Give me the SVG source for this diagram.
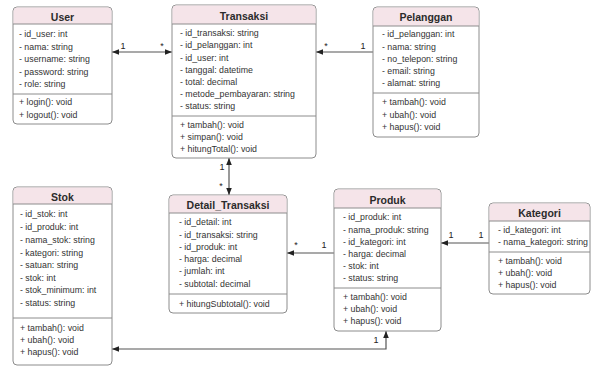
<svg xmlns="http://www.w3.org/2000/svg" width="592" height="367" viewBox="0 0 592 367">
<style>
.box{fill:#ffffff;stroke:#8c8c8c;stroke-width:1}
.hdr{fill:#f5e4e9}
.sep{stroke:#8c8c8c;stroke-width:1}
.ttl{font-family:"Liberation Sans",Arial,sans-serif;font-size:10.5px;font-weight:bold;fill:#2b2b2b;text-anchor:middle}
.t{font-family:"Liberation Sans",Arial,sans-serif;font-size:8.8px;fill:#333333}
.lbl{font-family:"Liberation Sans",Arial,sans-serif;font-size:9px;fill:#222222;text-anchor:middle}
.ln{fill:none;stroke:#555555;stroke-width:1.2}
</style>
<defs>
<marker id="arr" viewBox="0 0 10 10" refX="10" refY="5" markerWidth="7" markerHeight="7" markerUnits="userSpaceOnUse" orient="auto-start-reverse">
<path d="M0,1 L10,5 L0,9 z" fill="#222222"/>
</marker>
</defs>
<rect width="592" height="367" fill="#ffffff"/>

<g id="connectors">
<line class="ln" x1="112" y1="52" x2="172" y2="52" marker-start="url(#arr)" marker-end="url(#arr)"/>
<line class="ln" x1="373" y1="52" x2="316" y2="52" marker-end="url(#arr)"/>
<line class="ln" x1="229" y1="158" x2="229" y2="195" marker-start="url(#arr)" marker-end="url(#arr)"/>
<line class="ln" x1="334" y1="253" x2="287" y2="253" marker-end="url(#arr)"/>
<line class="ln" x1="489" y1="243" x2="441" y2="243" marker-end="url(#arr)"/>
<path class="ln" d="M112,349 L386,349 L386,331" marker-start="url(#arr)" marker-end="url(#arr)"/>
<text class="lbl" x="123" y="48.5">1</text>
<text class="lbl" x="162" y="48.5">*</text>
<text class="lbl" x="326" y="48.5">*</text>
<text class="lbl" x="363" y="48.5">1</text>
<text class="lbl" x="222" y="170">1</text>
<text class="lbl" x="221" y="189">*</text>
<text class="lbl" x="296" y="248">*</text>
<text class="lbl" x="324" y="248">1</text>
<text class="lbl" x="451" y="238">1</text>
<text class="lbl" x="481" y="238">1</text>
<text class="lbl" x="376" y="343">1</text>
</g>

<g id="User">
<rect class="box" x="13" y="7" width="99" height="117" rx="4"/>
<path class="hdr" d="M17.5,7.5 H107.5 A4,4 0 0 1 111.5,11.5 V24 H13.5 V11.5 A4,4 0 0 1 17.5,7.5 z"/>
<line class="sep" x1="13" y1="24" x2="112" y2="24"/>
<line class="sep" x1="13" y1="94" x2="112" y2="94"/>
<text class="ttl" x="62.5" y="20.5">User</text>
<text class="t" x="19" y="36.5">- id_user: int</text>
<text class="t" x="19" y="49.5">- nama: string</text>
<text class="t" x="19" y="62">- username: string</text>
<text class="t" x="19" y="74.5">- password: string</text>
<text class="t" x="19" y="86.5">- role: string</text>
<text class="t" x="19" y="105">+ login(): void</text>
<text class="t" x="19" y="117.5">+ logout(): void</text>
</g>

<g id="Transaksi">
<rect class="box" x="172" y="5" width="144" height="153" rx="4"/>
<path class="hdr" d="M176.5,5.5 H311.5 A4,4 0 0 1 315.5,9.5 V24 H172.5 V9.5 A4,4 0 0 1 176.5,5.5 z"/>
<line class="sep" x1="172" y1="24" x2="316" y2="24"/>
<line class="sep" x1="172" y1="116" x2="316" y2="116"/>
<text class="ttl" x="244" y="19.5">Transaksi</text>
<text class="t" x="180" y="36">- id_transaksi: string</text>
<text class="t" x="180" y="48">- id_pelanggan: int</text>
<text class="t" x="180" y="60.5">- id_user: int</text>
<text class="t" x="180" y="73">- tanggal: datetime</text>
<text class="t" x="180" y="84.5">- total: decimal</text>
<text class="t" x="180" y="97">- metode_pembayaran: string</text>
<text class="t" x="180" y="109">- status: string</text>
<text class="t" x="180" y="128">+ tambah(): void</text>
<text class="t" x="180" y="140">+ simpan(): void</text>
<text class="t" x="180" y="151.5">+ hitungTotal(): void</text>
</g>

<g id="Pelanggan">
<rect class="box" x="373" y="7" width="106" height="130" rx="4"/>
<path class="hdr" d="M377.5,7.5 H474.5 A4,4 0 0 1 478.5,11.5 V26 H373.5 V11.5 A4,4 0 0 1 377.5,7.5 z"/>
<line class="sep" x1="373" y1="26" x2="479" y2="26"/>
<line class="sep" x1="373" y1="93" x2="479" y2="93"/>
<text class="ttl" x="426" y="20.5">Pelanggan</text>
<text class="t" x="382" y="37">- id_pelanggan: int</text>
<text class="t" x="382" y="50">- nama: string</text>
<text class="t" x="382" y="62">- no_telepon: string</text>
<text class="t" x="382" y="74">- email: string</text>
<text class="t" x="382" y="86">- alamat: string</text>
<text class="t" x="382" y="105">+ tambah(): void</text>
<text class="t" x="382" y="117.5">+ ubah(): void</text>
<text class="t" x="382" y="130">+ hapus(): void</text>
</g>

<g id="Stok">
<rect class="box" x="13" y="187" width="99" height="178" rx="4"/>
<path class="hdr" d="M17.5,187.5 H107.5 A4,4 0 0 1 111.5,191.5 V204 H13.5 V191.5 A4,4 0 0 1 17.5,187.5 z"/>
<line class="sep" x1="13" y1="204" x2="112" y2="204"/>
<line class="sep" x1="13" y1="318" x2="112" y2="318"/>
<text class="ttl" x="62.5" y="200.5">Stok</text>
<text class="t" x="20" y="217">- id_stok: int</text>
<text class="t" x="20" y="230">- id_produk: int</text>
<text class="t" x="20" y="242.5">- nama_stok: string</text>
<text class="t" x="20" y="256">- kategori: string</text>
<text class="t" x="20" y="268">- satuan: string</text>
<text class="t" x="20" y="280.5">- stok: int</text>
<text class="t" x="20" y="293">- stok_minimum: int</text>
<text class="t" x="20" y="306">- status: string</text>
<text class="t" x="20" y="331">+ tambah(): void</text>
<text class="t" x="20" y="343">+ ubah(): void</text>
<text class="t" x="20" y="355">+ hapus(): void</text>
</g>

<g id="Detail_Transaksi">
<rect class="box" x="169" y="195" width="118" height="118" rx="4"/>
<path class="hdr" d="M173.5,195.5 H282.5 A4,4 0 0 1 286.5,199.5 V213 H169.5 V199.5 A4,4 0 0 1 173.5,195.5 z"/>
<line class="sep" x1="169" y1="213" x2="287" y2="213"/>
<line class="sep" x1="169" y1="294" x2="287" y2="294"/>
<text class="ttl" x="228" y="208.5">Detail_Transaksi</text>
<text class="t" x="179" y="225">- id_detail: int</text>
<text class="t" x="179" y="237.5">- id_transaksi: string</text>
<text class="t" x="179" y="250">- id_produk: int</text>
<text class="t" x="179" y="262">- harga: decimal</text>
<text class="t" x="179" y="274">- jumlah: int</text>
<text class="t" x="179" y="286.5">- subtotal: decimal</text>
<text class="t" x="179" y="307">+ hitungSubtotal(): void</text>
</g>

<g id="Produk">
<rect class="box" x="334" y="189" width="107" height="142" rx="4"/>
<path class="hdr" d="M338.5,189.5 H436.5 A4,4 0 0 1 440.5,193.5 V208 H334.5 V193.5 A4,4 0 0 1 338.5,189.5 z"/>
<line class="sep" x1="334" y1="208" x2="441" y2="208"/>
<line class="sep" x1="334" y1="288" x2="441" y2="288"/>
<text class="ttl" x="387.5" y="203.5">Produk</text>
<text class="t" x="343" y="220">- id_produk: int</text>
<text class="t" x="343" y="232.5">- nama_produk: string</text>
<text class="t" x="343" y="244.5">- id_kategori: int</text>
<text class="t" x="343" y="256.5">- harga: decimal</text>
<text class="t" x="343" y="268.5">- stok: int</text>
<text class="t" x="343" y="281">- status: string</text>
<text class="t" x="343" y="300">+ tambah(): void</text>
<text class="t" x="343" y="312">+ ubah(): void</text>
<text class="t" x="343" y="323.5">+ hapus(): void</text>
</g>

<g id="Kategori">
<rect class="box" x="489" y="203" width="101" height="91" rx="4"/>
<path class="hdr" d="M493.5,203.5 H585.5 A4,4 0 0 1 589.5,207.5 V221 H489.5 V207.5 A4,4 0 0 1 493.5,203.5 z"/>
<line class="sep" x1="489" y1="221" x2="590" y2="221"/>
<line class="sep" x1="489" y1="252" x2="590" y2="252"/>
<text class="ttl" x="539.5" y="216.5">Kategori</text>
<text class="t" x="498" y="233">- id_kategori: int</text>
<text class="t" x="498" y="245">- nama_kategori: string</text>
<text class="t" x="498" y="264">+ tambah(): void</text>
<text class="t" x="498" y="276">+ ubah(): void</text>
<text class="t" x="498" y="287.5">+ hapus(): void</text>
</g>
</svg>
